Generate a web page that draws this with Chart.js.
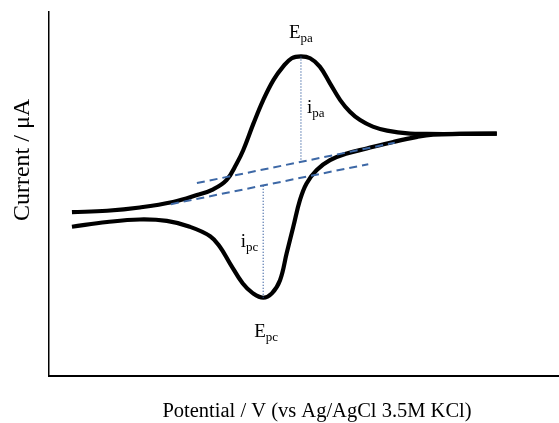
<!DOCTYPE html>
<html>
<head>
<meta charset="utf-8">
<script src="https://cdn.jsdelivr.net/npm/chart.js@4.4.0/dist/chart.umd.min.js"></script>
<style>
  html, body { margin: 0; padding: 0; background: #fff; }
  #wrap { width: 559px; height: 423px; }
</style>
</head>
<body>
<div id="wrap"><canvas id="cvChart" width="559" height="423"></canvas></div>
<script>
// forward scan (anodic branch): potential in V, current in uA
const fwdE = [-0.155, -0.086, -0.022, 0.043, 0.090, 0.122, 0.148, 0.168, 0.181, 0.201, 0.220, 0.240, 0.259,
              0.276, 0.294, 0.312, 0.331, 0.351, 0.371, 0.390, 0.410, 0.435, 0.463, 0.508, 0.541, 0.606, 0.678];
const fwdI = [5.0, 5.4, 6.3, 7.8, 9.7, 11.3, 13.8, 18.4, 22.1, 29.4, 35.8, 41.3, 45.0,
              47.3, 47.8, 47.3, 45.0, 40.4, 35.8, 32.6, 30.3, 28.5, 27.4, 26.6, 26.5, 26.5, 26.6];
// reverse scan (cathodic branch), listed low to high potential
const revE = [-0.155, -0.086, -0.022, 0.031, 0.076, 0.116, 0.135, 0.155, 0.180, 0.200, 0.220, 0.237, 0.253,
              0.266, 0.279, 0.292, 0.305, 0.325, 0.351, 0.384, 0.423, 0.475, 0.522, 0.553, 0.606, 0.678];
const revI = [1.0, 2.3, 3.0, 2.6, 1.0, -1.6, -4.5, -9.1, -14.6, -17.3, -18.5, -17.3, -13.7,
              -6.3, 1.0, 8.3, 12.9, 16.6, 19.3, 21.1, 22.5, 24.3, 25.7, 26.3, 26.5, 26.6];
// extrapolated baselines
const baseAnE = [0.090, 0.478];
const baseAnI = [13.0, 24.1];
const baseCaE = [0.039, 0.426];
const baseCaI = [7.2, 18.2];
// peaks: [anodic, cathodic]
const peakE = [0.294, 0.220];
const peakI = [47.8, -18.5];
const peakBaseI = [18.8, 12.3];
const peakNames = ['pa', 'pc'];

const xTitle = 'Potential / V (vs Ag/AgCl 3.5M KCl)';
const yTitle = 'Current / \u03bcA';

const pts = (xs, ys) => xs.map((v, i) => ({ x: v, y: ys[i] }));

const dashBlue = '#3d68a6';
const dotBlue = '#244f96';

const labelPlugin = {
    id: 'cvLabels',
    afterDraw(chart) {
        const ctx = chart.ctx;
        const x = chart.scales.x, y = chart.scales.y;
        ctx.save();
        ctx.fillStyle = '#000';
        ctx.textBaseline = 'alphabetic';
        ctx.textAlign = 'left';

        // main letter with subscript, starting at px
        function subText(main, sub, px, py) {
            ctx.font = '19px "Liberation Serif", "Times New Roman", serif';
            const w1 = ctx.measureText(main).width;
            ctx.fillText(main, px, py);
            ctx.font = '13px "Liberation Serif", "Times New Roman", serif';
            ctx.fillText(sub, px + w1, py + 4);
        }
        function widthOf(main, sub) {
            ctx.font = '19px "Liberation Serif", "Times New Roman", serif';
            let w = ctx.measureText(main).width;
            ctx.font = '13px "Liberation Serif", "Times New Roman", serif';
            return w + ctx.measureText(sub).width;
        }

        // E_pa above anodic peak, i_pa beside its dotted line
        let px = x.getPixelForValue(peakE[0]);
        let py = y.getPixelForValue(peakI[0]);
        subText('E', peakNames[0], px - widthOf('E', peakNames[0]) / 2, py - 18.5);
        let mid = (py + y.getPixelForValue(peakBaseI[0])) / 2;
        subText('i', peakNames[0], px + 6, mid + 4);

        // E_pc below cathodic peak, i_pc left of its dotted line
        px = x.getPixelForValue(peakE[1]);
        py = y.getPixelForValue(peakI[1]);
        subText('E', peakNames[1], px + 3 - widthOf('E', peakNames[1]) / 2, py + 39.5);
        mid = (py + y.getPixelForValue(peakBaseI[1])) / 2;
        subText('i', peakNames[1], px - 5 - widthOf('i', peakNames[1]), mid + 5.5);

        // axis titles
        ctx.font = '20.5px "Liberation Serif", "Times New Roman", serif';
        ctx.textAlign = 'center';
        ctx.fillText(xTitle, 317, 417);
        ctx.save();
        ctx.translate(28.5, 160);
        ctx.rotate(-Math.PI / 2);
        ctx.font = '24px "Liberation Serif", "Times New Roman", serif';
        ctx.fillText(yTitle, 0, 0);
        ctx.restore();
        ctx.restore();
    }
};

new Chart(document.getElementById('cvChart'), {
    type: 'line',
    data: {
        datasets: [
            { data: pts(baseAnE, baseAnI), borderColor: dashBlue, borderWidth: 2, borderDash: [8, 5], tension: 0 },
            { data: pts(baseCaE, baseCaI), borderColor: dashBlue, borderWidth: 2, borderDash: [8, 5], tension: 0 },
            { data: pts([peakE[0], peakE[0]], [peakI[0], peakBaseI[0]]), borderColor: dotBlue, borderWidth: 1.2, borderDash: [1, 2], tension: 0 },
            { data: pts([peakE[1], peakE[1]], [peakI[1], peakBaseI[1]]), borderColor: dotBlue, borderWidth: 1.2, borderDash: [1, 2], tension: 0 },
            { data: pts(fwdE, fwdI), borderColor: '#000', borderWidth: 4.2, tension: 0.4, borderJoinStyle: 'round' },
            { data: pts(revE, revI), borderColor: '#000', borderWidth: 4.2, tension: 0.4, borderJoinStyle: 'round' }
        ]
    },
    options: {
        responsive: false,
        animation: false,
        layout: { padding: { left: 49, top: 12, right: 0, bottom: 47 } },
        elements: { point: { radius: 0 }, line: { fill: false } },
        plugins: { legend: { display: false }, tooltip: { enabled: false } },
        scales: {
            x: {
                type: 'linear', min: -0.2, max: 0.8,
                ticks: { display: false },
                grid: { display: false, drawTicks: false },
                border: { display: true, color: '#000', width: 2 }
            },
            y: {
                type: 'linear', min: -40, max: 60,
                ticks: { display: false },
                grid: { display: false, drawTicks: false },
                border: { display: true, color: '#000', width: 1.5 }
            }
        }
    },
    plugins: [labelPlugin]
});
</script>
</body>
</html>
